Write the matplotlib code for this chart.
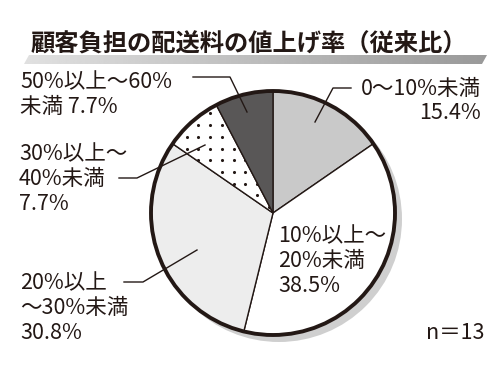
import matplotlib
matplotlib.use("Agg")
import matplotlib.pyplot as plt
import numpy as np
from matplotlib.patches import Circle, Polygon

plt.rcParams['font.family'] = ['Noto Sans CJK JP', 'DejaVu Sans']

# === DATA ===
TITLE = "顧客負担の配送料の値上げ率（従来比）"
CATEGORIES = ["0～10%未満", "10%以上～20%未満", "20%以上～30%未満",
              "30%以上～40%未満", "50%以上～60%未満"]
SHARES = [15.4, 38.5, 30.8, 7.7, 7.7]
LABELS = ["0～10%未満\n15.4%", "10%以上～\n20%未満\n38.5%", "20%以上\n～30%未満\n30.8%",
          "30%以上～\n40%未満\n7.7%", "50%以上～60%\n未満 7.7%"]
N_NOTE = "n＝13"

# === STYLE ===
INK = "#231815"
COLORS = ["#c9c9c9", "#ffffff", "#ededed", "#ffffff", "#595757"]
W, H = 500, 375
CX, CY, R = 273, 213, 122


def Y(y):
    # image row -> data y
    return H - y


fig = plt.figure(figsize=(5, 3.75), dpi=100)
ax = fig.add_axes([0, 0, 1, 1])

# shadow behind the pie
ax.add_patch(Circle((CX + 6, Y(CY + 6)), R + 1, facecolor="#cfcfcf", edgecolor="none", zorder=0))

wedges, _ = ax.pie(SHARES, startangle=90, counterclock=False, colors=COLORS, radius=R,
                   center=(CX, Y(CY)), wedgeprops=dict(edgecolor=INK, linewidth=1.0))
for w in wedges:
    w.set_zorder(1)

# dotted pattern in the 30-40% wedge
gx, gy = np.meshgrid(np.arange(140, 280, 11.7), np.arange(90, 230, 11.7))
dots = ax.scatter(gx.ravel(), Y(gy.ravel()), s=5, color=INK, zorder=2, linewidths=0)
dots.set_clip_path(wedges[3])

# thick outer rim
ax.add_patch(Circle((CX, Y(CY)), R, facecolor="none", edgecolor=INK, linewidth=2.8, zorder=4))

# title with grey band
band = Polygon([(24, Y(64)), (482, Y(64)), (487, Y(55)), (29, Y(55))], closed=True,
               facecolor="none", edgecolor="none")
ax.add_patch(band)
grad = np.linspace(0.88, 0.6, 256).reshape(1, -1)
im = ax.imshow(grad, cmap="gray", vmin=0, vmax=1, extent=(24, 487, Y(64), Y(55)),
               aspect="auto", zorder=1)
im.set_clip_path(band)
ax.text(249, Y(45), TITLE, ha="center", va="center", fontsize=17.5, fontweight="bold",
        color=INK, zorder=5)

fs = 15.5
txt = dict(fontsize=fs, color=INK, linespacing=1.17, zorder=5)
ax.text(481, Y(101), LABELS[0], ha="right", va="center", multialignment="right", **txt)
ax.text(278, Y(261), LABELS[1], ha="left", va="center", **txt)
ax.text(20, Y(308), LABELS[2], ha="left", va="center", **txt)
ax.text(19, Y(179), LABELS[3], ha="left", va="center", **txt)
ax.text(20, Y(95), LABELS[4], ha="left", va="center", **txt)
ax.text(484, Y(333), N_NOTE, ha="right", va="center", **txt)

# leader lines
lk = dict(color=INK, linewidth=1.0, zorder=6)
ax.plot([193, 230, 247], [Y(77), Y(77), Y(112)], **lk)
ax.plot([351, 333, 315], [Y(88), Y(88), Y(122)], **lk)
ax.plot([119, 137, 205], [Y(178), Y(178), Y(145)], **lk)
ax.plot([124, 143, 197], [Y(282), Y(282), Y(250)], **lk)

ax.set_xlim(0, W)
ax.set_ylim(0, H)
ax.set_aspect("equal")
ax.axis("off")

fig.savefig("out.png", dpi=100, facecolor="white")
